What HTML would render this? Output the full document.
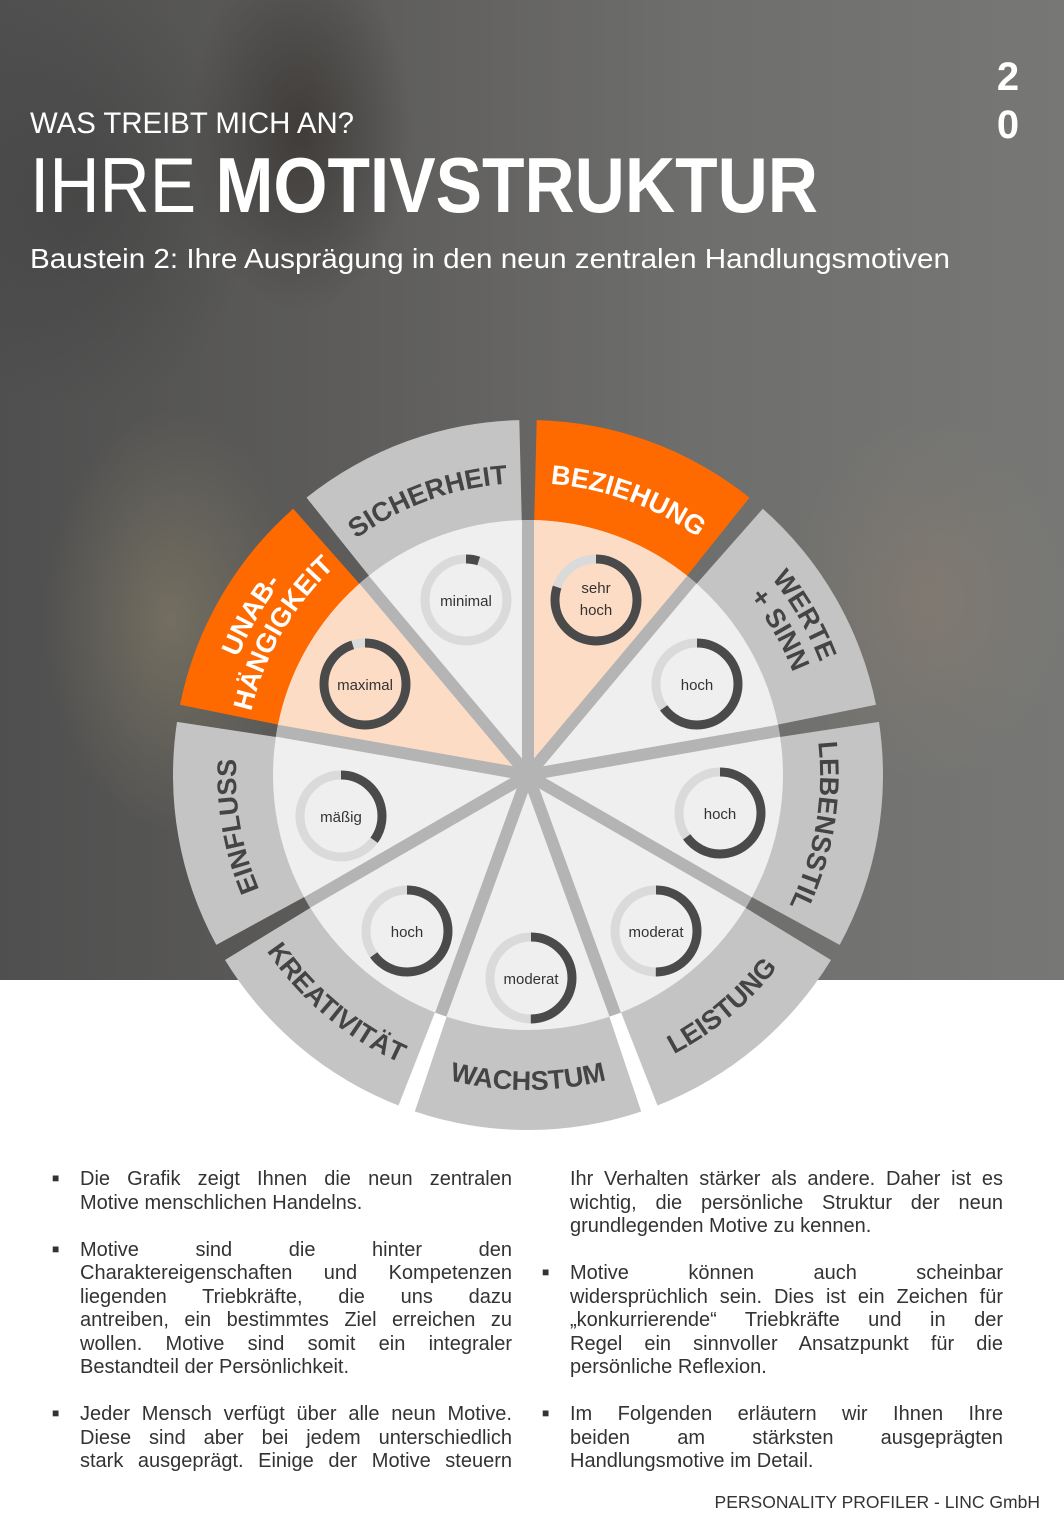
<!DOCTYPE html>
<html><head><meta charset="utf-8">
<style>
html,body{margin:0;padding:0}
body{width:1064px;height:1536px;position:relative;overflow:hidden;background:#fff;font-family:"Liberation Sans",sans-serif}
#bg{position:absolute;left:0;top:0;width:1064px;height:980px;
background:
radial-gradient(ellipse 160px 260px at 300px 130px,rgba(40,35,32,.55),transparent 70%),
radial-gradient(ellipse 180px 300px at 170px 620px,rgba(150,140,110,.45),transparent 70%),
radial-gradient(ellipse 200px 260px at 930px 600px,rgba(150,130,110,.35),transparent 70%),
radial-gradient(ellipse 250px 300px at 80px 200px,rgba(60,60,60,.5),transparent 70%),
linear-gradient(90deg,#4f4f4f 0%,#5e5d5b 35%,#6e6e6c 65%,#777876 100%);}
.col{position:absolute;font-size:20px;line-height:23.5px;color:#333}
.col p{margin:0 0 23.5px 0;position:relative}
.col p span.j{display:block;text-align:justify;text-align-last:justify}
.col p span.e{display:block}
.b{position:absolute;left:-28px;top:-1px;font-size:12px}
</style></head><body>
<div id="bg"></div>
<svg width="1064" height="300" style="position:absolute;left:0;top:0">
<text x="30" y="133" font-size="30" fill="#fff" textLength="324" lengthAdjust="spacingAndGlyphs">WAS TREIBT MICH AN?</text>
<text x="30" y="212" font-size="78" fill="#fff" textLength="788" lengthAdjust="spacingAndGlyphs">IHRE <tspan font-weight="bold">MOTIVSTRUKTUR</tspan></text>
<text x="30" y="268" font-size="28" fill="#fff" textLength="920" lengthAdjust="spacingAndGlyphs">Baustein 2: Ihre Ausprägung in den neun zentralen Handlungsmotiven</text>
<text x="1008" y="90" font-size="40" font-weight="bold" fill="#fff" text-anchor="middle">2</text>
<text x="1008" y="138" font-size="40" font-weight="bold" fill="#fff" text-anchor="middle">0</text>
</svg>
<svg id="w" width="1064" height="1536" style="position:absolute;left:0;top:0">
<defs>
<path id="p1"/><path id="p2"/><path id="p3"/><path id="p4"/><path id="p5"/><path id="p6"/><path id="p7a"/><path id="p7b"/><path id="p8a"/><path id="p8b"/><path id="p9"/>
</defs>
<g id="shapes"></g>
<g font-family="Liberation Sans, sans-serif" font-size="27" font-weight="bold" text-anchor="middle">
<text fill="#fff"><textPath href="#p1" startOffset="50%">BEZIEHUNG</textPath></text>
<text fill="#444"><textPath href="#p2" startOffset="50%">LEBENSSTIL</textPath></text>
<text fill="#444"><textPath href="#p3" startOffset="50%">LEISTUNG</textPath></text>
<text fill="#444"><textPath href="#p4" startOffset="50%">WACHSTUM</textPath></text>
<text fill="#444"><textPath href="#p5" startOffset="50%">KREATIVITÄT</textPath></text>
<text fill="#444"><textPath href="#p6" startOffset="50%">EINFLUSS</textPath></text>
<text fill="#fff"><textPath href="#p7a" startOffset="50%">UNAB-</textPath></text>
<text fill="#fff"><textPath href="#p7b" startOffset="50%">HÄNGIGKEIT</textPath></text>
<text fill="#444"><textPath href="#p8a" startOffset="50%">WERTE</textPath></text>
<text fill="#444"><textPath href="#p8b" startOffset="50%">+ SINN</textPath></text>
<text fill="#444"><textPath href="#p9" startOffset="50%">SICHERHEIT</textPath></text>
</g>
<g font-family="Liberation Sans, sans-serif" font-size="15" fill="#333" text-anchor="middle">
<text x="466" y="606">minimal</text>
<text x="596" y="593">sehr</text><text x="596" y="615">hoch</text>
<text x="697" y="690">hoch</text>
<text x="720" y="819">hoch</text>
<text x="656" y="937">moderat</text>
<text x="531" y="984">moderat</text>
<text x="407" y="937">hoch</text>
<text x="341" y="822">mäßig</text>
<text x="365" y="690">maximal</text>
</g>
</svg>
<div class="col" style="left:80px;top:1168px;width:432px">
<p><span class="b">■</span><span class="j">Die Grafik zeigt Ihnen die neun zentralen</span><span class="e">Motive menschlichen Handelns.</span></p>
<p><span class="b">■</span><span class="j">Motive sind die hinter den</span><span class="j">Charaktereigenschaften und Kompetenzen</span><span class="j">liegenden Triebkräfte, die uns dazu</span><span class="j">antreiben, ein bestimmtes Ziel erreichen zu</span><span class="j">wollen. Motive sind somit ein integraler</span><span class="e">Bestandteil der Persönlichkeit.</span></p>
<p><span class="b">■</span><span class="j">Jeder Mensch verfügt über alle neun Motive.</span><span class="j">Diese sind aber bei jedem unterschiedlich</span><span class="j">stark ausgeprägt. Einige der Motive steuern</span></p>
</div>
<div class="col" style="left:570px;top:1168px;width:433px">
<p><span class="j">Ihr Verhalten stärker als andere. Daher ist es</span><span class="j">wichtig, die persönliche Struktur der neun</span><span class="e">grundlegenden Motive zu kennen.</span></p>
<p><span class="b">■</span><span class="j">Motive können auch scheinbar</span><span class="j">widersprüchlich sein. Dies ist ein Zeichen für</span><span class="j">„konkurrierende“ Triebkräfte und in der</span><span class="j">Regel ein sinnvoller Ansatzpunkt für die</span><span class="e">persönliche Reflexion.</span></p>
<p><span class="b">■</span><span class="j">Im Folgenden erläutern wir Ihnen Ihre</span><span class="j">beiden am stärksten ausgeprägten</span><span class="e">Handlungsmotive im Detail.</span></p>
</div>
<div style="position:absolute;right:24px;top:1492px;font-size:17.5px;color:#333">PERSONALITY PROFILER - LINC GmbH</div>
<script>
var cx=528,cy=775,R=355,r=255,NS="http://www.w3.org/2000/svg";
function pt(a,rad){a=a*Math.PI/180;return [cx+rad*Math.sin(a),cy-rad*Math.cos(a)];}
function f(p){return p[0].toFixed(1)+" "+p[1].toFixed(1);}
function add(tag,at){var e=document.createElementNS(NS,tag);for(var k in at)e.setAttribute(k,at[k]);document.getElementById("shapes").appendChild(e);return e;}
function wedge(a1,a2,r1,r2){return "M"+f(pt(a1,r2))+" A"+r2+" "+r2+" 0 0 1 "+f(pt(a2,r2))+" L"+f(pt(a2,r1))+" A"+r1+" "+r1+" 0 0 0 "+f(pt(a1,r1))+"Z";}
var orange={0:1,7:1};
for(var i=0;i<9;i++){
 var a1=i*40+1.4,a2=(i+1)*40-1.4;
 add("path",{d:wedge(a1,a2,r-2,R),fill:orange[i]?"#ff6a00":"#c4c4c4"});
}
add("circle",{cx:cx,cy:cy,r:r,fill:"#efefef"});
[0,7].forEach(function(i){add("path",{d:"M"+cx+" "+cy+" L"+f(pt(i*40,r))+" A"+r+" "+r+" 0 0 1 "+f(pt(i*40+40,r))+"Z",fill:"#fddcc6"});});
for(var i=0;i<9;i++){var p=pt(i*40,r);add("line",{x1:cx,y1:cy,x2:p[0],y2:p[1],stroke:"#b4b4b4","stroke-width":12});}
add("circle",{cx:cx,cy:cy,r:8,fill:"#b4b4b4"});
var g=[[466,600,.05],[596,600,.8],[697,684,.65],[720,813,.65],[656,931,.5],[531,978,.5],[407,931,.65],[341,816,.35],[365,684,.95]];
g.forEach(function(q){var rr=41,c=2*Math.PI*rr;
 add("circle",{cx:q[0],cy:q[1],r:rr,fill:"none",stroke:"#dadada","stroke-width":9});
 add("circle",{cx:q[0],cy:q[1],r:rr,fill:"none",stroke:"#4a4a4a","stroke-width":9,"stroke-dasharray":(c*q[2]).toFixed(1)+" "+c.toFixed(1),transform:"rotate(-90 "+q[0]+" "+q[1]+")"});
});
function cw(id,a1,a2,rad){document.getElementById(id).setAttribute("d","M"+f(pt(a1,rad))+" A"+rad+" "+rad+" 0 0 1 "+f(pt(a2,rad)));}
function ccw(id,a1,a2,rad){document.getElementById(id).setAttribute("d","M"+f(pt(a2,rad))+" A"+rad+" "+rad+" 0 0 0 "+f(pt(a1,rad)));}
cw("p1",0,40,292);cw("p2",80,120,292);ccw("p3",120,160,315);ccw("p4",160,200,315);ccw("p5",200,240,315);
cw("p6",240,280,292);cw("p7a",280,320,313);cw("p7b",280,320,284);cw("p8a",40,80,313);cw("p8b",40,80,284);cw("p9",320,360,292);
</script>
</body></html>
